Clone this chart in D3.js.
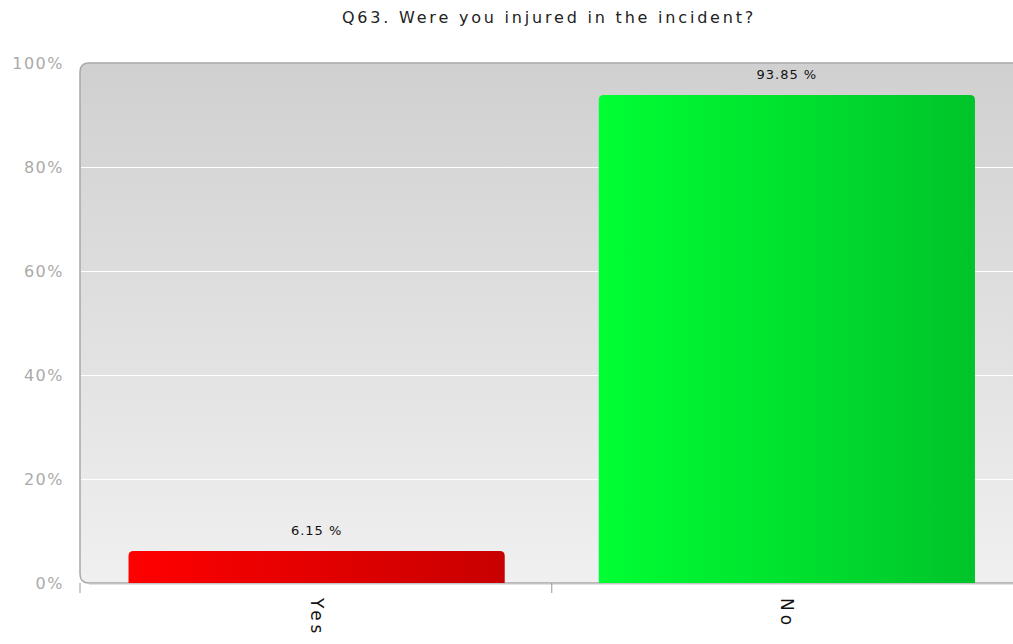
<!DOCTYPE html>
<html><head><meta charset="utf-8">
<script src="https://cdn.jsdelivr.net/npm/d3@7"></script>
<style>body{margin:0;background:#fff;}svg{display:block;font-family:"DejaVu Sans",sans-serif;}</style>
</head><body>
<svg id="c" width="1013" height="644"></svg>
<script>
const title = "Q63. Were you injured in the incident?";
const categories = ["Yes", "No"];
const values = [6.15, 93.85];
const yTicks = [0, 20, 40, 60, 80, 100];

const svg = d3.select("#c");
const L = 80, R = 1022, T = 63, B = 583;
const x = d3.scaleBand().domain(categories).range([L + 1.5, R]).paddingInner(0.2).paddingOuter(0.1);
const y = d3.scaleLinear().domain([0, 100]).range([B, T]);

const defs = svg.append("defs");
const bg = defs.append("linearGradient").attr("id","bg").attr("x1",0).attr("y1",0).attr("x2",0).attr("y2",1);
bg.append("stop").attr("offset","0%").attr("stop-color","#d0d0d0");
bg.append("stop").attr("offset","100%").attr("stop-color","#f0f0f0");
const colors = [["#ff0000","#c80000"],["#00ff33","#00c42a"]];
colors.forEach((c,i)=>{
  const g = defs.append("linearGradient").attr("id","b"+i).attr("x1",0).attr("y1",0).attr("x2",1).attr("y2",0);
  g.append("stop").attr("offset","0%").attr("stop-color",c[0]);
  g.append("stop").attr("offset","100%").attr("stop-color",c[1]);
});

// frame with rounded left corners
const r = 9;
svg.append("path")
  .attr("d", `M${R+20},${T} L${L+r},${T} Q${L},${T} ${L},${T+r} L${L},${B-r} Q${L},${B} ${L+r},${B} L${R+20},${B}`)
  .attr("fill","url(#bg)").attr("stroke","#a8a8a8").attr("stroke-width",1.5);
svg.append("line").attr("x1",L+r).attr("x2",R+20).attr("y1",B+1).attr("y2",B+1).attr("stroke","#c8c8c8").attr("stroke-width",1);

// gridlines
svg.append("g").selectAll("line").data(yTicks.filter(t=>t>0 && t<100)).join("line")
  .attr("x1",L+1).attr("x2",R+20).attr("y1",d=>Math.round(y(d))+0.5).attr("y2",d=>Math.round(y(d))+0.5)
  .attr("stroke","#ffffff").attr("stroke-width",1);

// y axis labels
const yAxis = d3.axisLeft(y).tickValues(yTicks).tickFormat(d=>d+"%").tickSize(0).tickPadding(16);
const ya = svg.append("g").attr("transform",`translate(${L},0)`).call(yAxis);
ya.select(".domain").remove();
ya.selectAll("text").attr("fill","#aaaaaa").style("font-size","16px").style("letter-spacing","1.5px")
  .style("font-family","'DejaVu Sans',sans-serif");

// bars
svg.append("g").selectAll("path").data(values).join("path")
  .attr("d",(d,i)=>{
    const x0 = x(categories[i]), w = x.bandwidth(), y0 = y(d), rr = 5;
    return `M${x0},${B} L${x0},${y0+rr} Q${x0},${y0} ${x0+rr},${y0} L${x0+w-rr},${y0} Q${x0+w},${y0} ${x0+w},${y0+rr} L${x0+w},${B} Z`;
  })
  .attr("fill",(d,i)=>`url(#b${i})`);

// value labels
svg.append("g").selectAll("text").data(values).join("text")
  .attr("x",(d,i)=>x(categories[i])+x.bandwidth()/2)
  .attr("y",d=>y(d)-16)
  .attr("text-anchor","middle").attr("fill","#111").style("font-size","13px").style("letter-spacing","1px")
  .text(d=>d.toFixed(2)+" %");

// x axis ticks
const tickXs = [L, (x("Yes")+x.bandwidth()+x("No"))/2];
svg.append("g").selectAll("line").data(tickXs).join("line")
  .attr("x1",d=>d).attr("x2",d=>d).attr("y1",B).attr("y2",B+10).attr("stroke","#999");

// category labels rotated
svg.append("g").selectAll("text").data(categories).join("text")
  .attr("transform",d=>`translate(${x(d)+x.bandwidth()/2-6},${B+15}) rotate(90)`)
  .attr("text-anchor","start").attr("fill","#111").style("font-size","17px").style("letter-spacing","4px")
  .text(d=>d);

// title
svg.append("text").attr("x",549).attr("y",23).attr("text-anchor","middle")
  .attr("fill","#222").style("font-size","16px").style("letter-spacing","2.8px").text(title);
</script>
</body></html>
